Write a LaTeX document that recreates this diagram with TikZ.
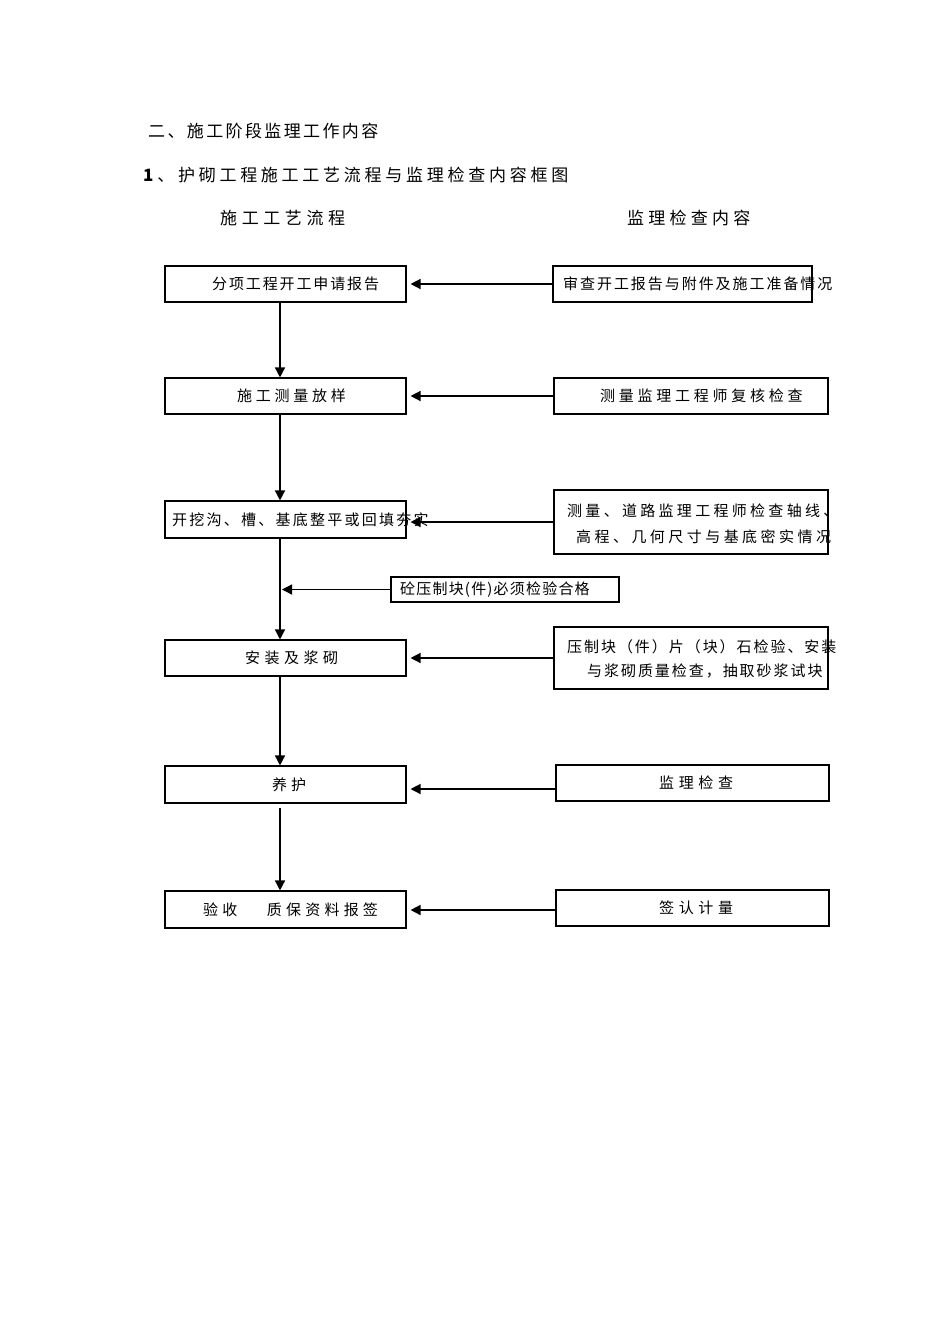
\documentclass[tikz,border=0pt]{standalone}
\usepackage{fontspec}
\setmainfont{Noto Sans CJK SC}
\usetikzlibrary{arrows.meta}
\newcommand{\LS}[2]{{\addfontfeatures{LetterSpace=#1}#2}}
\begin{document}
\begin{tikzpicture}[x=1pt,y=-1pt,
  box/.style={draw, line width=1.1pt, inner sep=0pt},
  arr/.style={line width=1.4pt, -{Triangle[length=10pt,width=10pt]}},
  txt/.style={anchor=west, inner sep=0pt, font=\fontsize{15}{18}\selectfont},
  ttl/.style={anchor=west, inner sep=0pt, font=\fontsize{17}{20}\selectfont}]
\useasboundingbox[fill=white] (0,0) rectangle (950,1344);

% titles
\node[ttl] (h1) at (148,131) {\LS{14}{二、施工阶段监理工作内容}};
\node[ttl] (h2) at (143,175) {\LS{22}{\textbf{1}、护砌工程施工工艺流程与监理检查内容框图}};
\node[ttl] (h3) at (220,218) {\LS{27}{施工工艺流程}};
\node[ttl] (h4) at (627,218) {\LS{25}{监理检查内容}};

% left boxes
\node[box, minimum width=241pt, minimum height=36pt] (b1) at (285.5,284) {};
\node[box, minimum width=241pt, minimum height=36pt] (b2) at (285.5,396) {};
\node[box, minimum width=241pt, minimum height=37pt] (b3) at (285.5,519.5) {};
\node[box, minimum width=241pt, minimum height=36pt] (b4) at (285.5,658) {};
\node[box, minimum width=241pt, minimum height=37pt] (b5) at (285.5,784.5) {};
\node[box, minimum width=241pt, minimum height=37pt] (b6) at (285.5,909.5) {};

% right boxes
\node[box, minimum width=259pt, minimum height=36pt] (r1) at (682.5,284) {};
\node[box, minimum width=274pt, minimum height=36pt] (r2) at (691,396) {};
\node[box, minimum width=274pt, minimum height=64pt] (r3) at (691,522) {};
\node[box, minimum width=228pt, minimum height=25pt] (r4) at (505,589.5) {};
\node[box, minimum width=274pt, minimum height=62pt] (r5) at (691,658) {};
\node[box, minimum width=273pt, minimum height=36pt] (r6) at (692.5,783) {};
\node[box, minimum width=273pt, minimum height=36pt] (r7) at (692.5,908) {};

% texts left
\node[txt] (t1) at (212,284) {\LS{12.5}{分项工程开工申请报告}};
\node[txt] (t2) at (237,396) {\LS{25}{施工测量放样}};
\node[txt] (t3) at (172,520) {\LS{15}{开挖沟、槽、基底整平或回填夯实}};
\node[txt] (t4) at (245,658) {\LS{30}{安装及浆砌}};
\node[txt] (t5) at (272,785) {\LS{27}{养护}};
\node[txt] (t6) at (203,910) {\LS{28}{验收}\hspace{29.6pt}\LS{28}{质保资料报签}};

% texts right
\node[txt] (s1) at (563,284) {\LS{13}{审查开工报告与附件及施工准备情况}};
\node[txt] (s2) at (600,396) {\LS{25}{测量监理工程师复核检查}};
\node[txt] (s3a) at (567,511) {\LS{22}{测量、道路监理工程师检查轴线、}};
\node[txt] (s3b) at (576,537) {\LS{23}{高程、几何尺寸与基底密实情况}};
\node[txt] (s4) at (400,590) {\LS{8}{砼压制块(件)必须检验合格}};
\node[txt] (s5a) at (567,647) {\LS{13}{压制块（件）片（块）石检验、安装}};
\node[txt] (s5b) at (587,671) {\LS{13}{与浆砌质量检查，抽取砂浆试块}};
\node[txt] (s6) at (659,783) {\LS{31}{监理检查}};
\node[txt] (s7) at (659,908) {\LS{31}{签认计量}};

% vertical arrows
\draw[arr] ([xshift=-5.5pt]b1.south) -- ([xshift=-5.5pt]b2.north);
\draw[arr] ([xshift=-5.5pt]b2.south) -- ([xshift=-5.5pt]b3.north);
\draw[arr] ([xshift=-5.5pt]b3.south) -- ([xshift=-5.5pt]b4.north);
\draw[arr] ([xshift=-5.5pt]b4.south) -- ([xshift=-5.5pt]b5.north);
\draw[arr, shorten <=4pt] ([xshift=-5.5pt]b5.south) -- ([xshift=-5.5pt]b6.north);

% horizontal arrows
\draw[arr, shorten >=4pt] (r1.west) -- (b1.east);
\draw[arr, shorten >=4pt] (r2.west) -- (b2.east);
\draw[arr, shorten >=4pt] (r3.west) -- (b3.east |- r3.west);
\draw[arr, shorten >=2pt] (r4.west) -- ([xshift=-5.5pt]b3.south |- r4.west);
\draw[arr, shorten >=4pt] (r5.west) -- (b4.east);
\draw[arr, shorten >=4pt] ([yshift=-6pt]r6.west) -- ([yshift=-6pt]b5.east |- r6.west);
\draw[arr, shorten >=4pt] ([yshift=-2pt]r7.west) -- ([yshift=-2pt]b6.east |- r7.west);
\end{tikzpicture}
\end{document}
